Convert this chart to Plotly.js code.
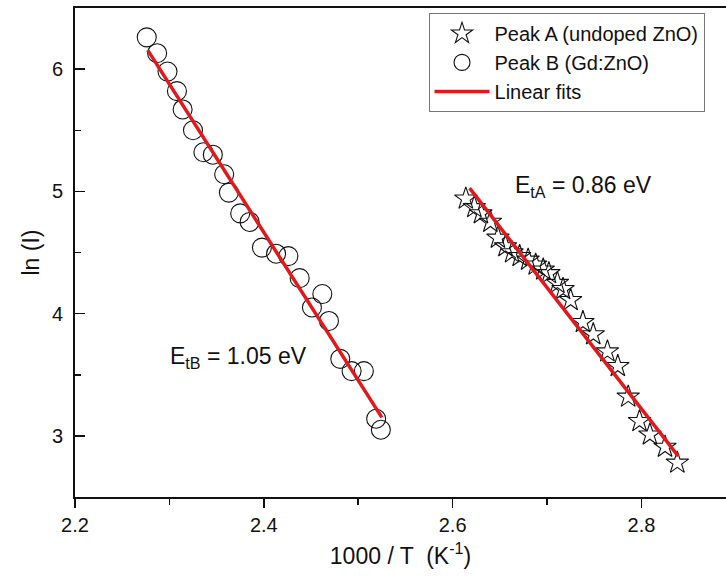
<!DOCTYPE html>
<html>
<head>
<meta charset="utf-8">
<script src="https://cdn.plot.ly/plotly-3.0.1.min.js"></script>
<style>html,body{margin:0;padding:0;background:#fff;overflow:hidden;}</style>
</head>
<body>
<div id="chart" style="width:726px;height:578px;"></div>
<script>
// Peak A (undoped ZnO) - stars
const peakA_x = [2.614, 2.623, 2.630, 2.640, 2.648, 2.656, 2.663, 2.671, 2.680, 2.688, 2.696, 2.702, 2.711, 2.717, 2.725, 2.738, 2.749, 2.764, 2.775, 2.786, 2.798, 2.809, 2.825, 2.838];
const peakA_y = [4.94, 4.87, 4.82, 4.75, 4.62, 4.55, 4.50, 4.47, 4.44, 4.40, 4.36, 4.33, 4.25, 4.20, 4.11, 3.93, 3.83, 3.69, 3.57, 3.32, 3.12, 3.01, 2.91, 2.78];
// Peak B (Gd:ZnO) - circles
const peakB_x = [2.276, 2.287, 2.298, 2.308, 2.314, 2.325, 2.336, 2.346, 2.358, 2.363, 2.375, 2.385, 2.398, 2.413, 2.426, 2.438, 2.451, 2.462, 2.469, 2.481, 2.493, 2.506, 2.519, 2.524];
const peakB_y = [6.26, 6.13, 5.98, 5.82, 5.67, 5.50, 5.32, 5.30, 5.14, 4.99, 4.82, 4.75, 4.54, 4.49, 4.47, 4.29, 4.05, 4.16, 3.94, 3.63, 3.53, 3.53, 3.14, 3.05];
// Linear fits (end points)
const fitA_x = [2.618, 2.839];
const fitA_y = [5.026, 2.835];
const fitB_x = [2.277, 2.525];
const fitB_y = [6.155, 3.151];
// labels
const xTicks = [2.2, 2.4, 2.6, 2.8];
const yTicks = [3, 4, 5, 6];
const seriesNames = ["Peak A (undoped ZnO)", "Peak B (Gd:ZnO)", "Linear fits"];
const energyLabels = ["E<sub>tA</sub> = 0.86 eV", "E<sub>tB</sub> = 1.05 eV"];

const FONT = "Liberation Sans, Arial, sans-serif";
const RED = "#e0191c";

const traces = [
  {x: peakA_x, y: peakA_y, mode: "markers", type: "scatter", name: seriesNames[0],
   marker: {symbol: "star-open", size: 17, color: "#111", line: {width: 1.1, color: "#111"}}},
  {x: peakB_x, y: peakB_y, mode: "markers", type: "scatter", name: seriesNames[1],
   marker: {symbol: "circle-open", size: 19, color: "#111", line: {width: 1.1, color: "#111"}}},
  {x: fitA_x, y: fitA_y, mode: "lines", type: "scatter", name: seriesNames[2],
   line: {color: RED, width: 3.5}, legendgroup: "fit"},
  {x: fitB_x, y: fitB_y, mode: "lines", type: "scatter", name: seriesNames[2],
   line: {color: RED, width: 3.5}, legendgroup: "fit", showlegend: false}
];

const layout = {
  width: 726, height: 578,
  margin: {l: 75, r: 0, t: 8, b: 81},
  paper_bgcolor: "#fff", plot_bgcolor: "#fff",
  font: {family: FONT, color: "#111", size: 18},
  showlegend: true,
  legend: {x: 0.967, y: 0.99, xanchor: "right", yanchor: "top",
           bordercolor: "#777", borderwidth: 1, bgcolor: "#fff",
           font: {family: FONT, size: 20, color: "#111"},
           tracegroupgap: 0, itemwidth: 55},
  xaxis: {
    range: [2.2, 2.8896], tickvals: xTicks, ticktext: xTicks.map(v => v.toFixed(1)),
    ticks: "outside", ticklen: 9, tickwidth: 1.5, tickcolor: "#111",
    minor: {dtick: 0.1, tick0: 2.2, ticks: "outside", ticklen: 6, tickwidth: 1.5, tickcolor: "#111"},
    showline: true, linecolor: "#111", linewidth: 2, mirror: true,
    showgrid: false, zeroline: false,
    tickfont: {family: FONT, size: 20, color: "#111"},
    title: {text: "1000 / T  (K<sup>-1</sup>)", font: {family: FONT, size: 23, color: "#111"}, standoff: 13}
  },
  yaxis: {
    range: [2.5, 6.5], tickvals: yTicks,
    ticks: "inside", ticklen: 10, tickwidth: 1.5, tickcolor: "#111",
    minor: {dtick: 0.5, tick0: 2.5, ticks: "inside", ticklen: 6, tickwidth: 1.5, tickcolor: "#111"},
    showline: true, linecolor: "#111", linewidth: 2, mirror: false,
    showgrid: false, zeroline: false,
    tickfont: {family: FONT, size: 20, color: "#111"},
    ticklabelstandoff: 6,
    title: {text: "ln (I)", font: {family: FONT, size: 23, color: "#111"}, standoff: 6}
  },
  annotations: [
    {x: 2.664, y: 5.04, xref: "x", yref: "y", text: energyLabels[0], showarrow: false,
     xanchor: "left", yanchor: "middle", font: {family: FONT, size: 23, color: "#111"}},
    {x: 2.298, y: 3.64, xref: "x", yref: "y", text: energyLabels[1], showarrow: false,
     xanchor: "left", yanchor: "middle", font: {family: FONT, size: 23, color: "#111"}}
  ]
};

Plotly.newPlot("chart", traces, layout, {displayModeBar: false, staticPlot: true});
</script>
</body>
</html>
